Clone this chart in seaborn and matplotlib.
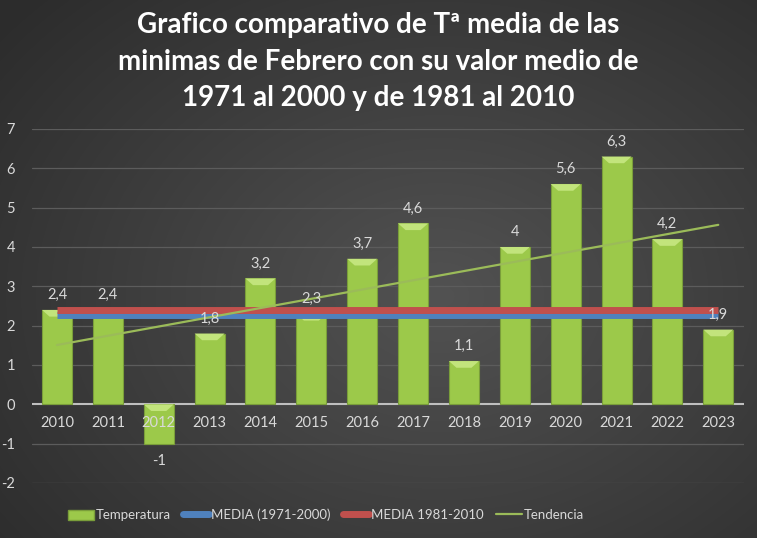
import numpy as np
import pandas as pd
import matplotlib
matplotlib.use("Agg")
import matplotlib.pyplot as plt
import seaborn as sns
from matplotlib.patches import Patch
from matplotlib.lines import Line2D

years = ["2010", "2011", "2012", "2013", "2014", "2015", "2016",
         "2017", "2018", "2019", "2020", "2021", "2022", "2023"]
temperatura = [2.4, 2.4, -1, 1.8, 3.2, 2.3, 3.7, 4.6, 1.1, 4, 5.6, 6.3, 4.2, 1.9]
labels = ["2,4", "2,4", "-1", "1,8", "3,2", "2,3", "3,7", "4,6", "1,1", "4", "5,6", "6,3", "4,2", "1,9"]
media_1971_2000 = 2.27
media_1981_2010 = 2.4
yticks = [-2, -1, 0, 1, 2, 3, 4, 5, 6, 7]

title = "Grafico comparativo de Tª media de las\nminimas de Febrero con su valor medio de\n1971 al 2000 y de 1981 al 2010"

sns.set_theme(style="dark")
plt.rcParams['font.family'] = ['Lato', 'DejaVu Sans']

W, H = 757, 538
fig = plt.figure(figsize=(W / 100, H / 100), dpi=100)

# radial gradient background
bg = fig.add_axes([0, 0, 1, 1], zorder=0)
yy, xx = np.mgrid[0:H, 0:W]
cx, cy = W * 0.58, H * 0.55
r = np.sqrt(((xx - cx) / (W * 0.75)) ** 2 + ((yy - cy) / (H * 0.8)) ** 2)
r = np.clip(r, 0, 1)
inner = np.array([0x52, 0x52, 0x52]) / 255
outer = np.array([0x2c, 0x2c, 0x2c]) / 255
img = inner[None, None, :] * (1 - r[..., None]) + outer[None, None, :] * r[..., None]
bg.imshow(img, aspect="auto", extent=[0, 1, 0, 1])
bg.set_axis_off()

ax = fig.add_axes([31.6 / W, 55 / H, (743.7 - 31.6) / W, (483 - 129) / H], zorder=1)
ax.patch.set_alpha(0)

df = pd.DataFrame({"year": years, "temp": temperatura})
sns.barplot(data=df, x="year", y="temp", ax=ax, color="#9cc94a", width=0.59,
            edgecolor="#7a9e3a", linewidth=0.8, saturation=1, zorder=3)

# bevel highlight on bar ends
for p, v in zip(ax.patches, temperatura):
    x0, w = p.get_x(), p.get_width()
    h = 0.17
    top = v if v >= 0 else 0
    ax.fill([x0, x0 + w, x0 + w * 0.75, x0 + w * 0.25],
            [top, top, top - h, top - h], color="#c2e47c", zorder=4, lw=0)

xs = np.arange(len(years))
ax.plot([xs[0], xs[-1]], [media_1971_2000] * 2, color="#4f81bd", lw=5, zorder=5, solid_capstyle="butt")
ax.plot([xs[0], xs[-1]], [media_1981_2010] * 2, color="#c0504d", lw=5, zorder=5, solid_capstyle="butt")

coef = np.polyfit(xs, temperatura, 1)
trend = np.polyval(coef, xs)
sns.lineplot(x=xs, y=trend, ax=ax, color="#9bbb59", lw=1.6, zorder=6)

for x, v, t in zip(xs, temperatura, labels):
    if v >= 0:
        ax.text(x, v + 0.38, t, ha="center", va="center", color="#d9d9d9", fontsize=10.5, zorder=7)
    else:
        ax.text(x, v - 0.45, t, ha="center", va="center", color="#d9d9d9", fontsize=10.5, zorder=7)

ax.set_xlim(-0.5, len(years) - 0.5)
ax.set_ylim(-2, 7)
ax.set_yticks(yticks)
ax.set_yticklabels([str(t) for t in yticks])
for t in yticks:
    if t != 0:
        ax.axhline(t, color="#5c5c5c", lw=0.9, zorder=1)
ax.axhline(0, color="#bfbfbf", lw=1.5, zorder=2)
ax.grid(False)
for s in ax.spines.values():
    s.set_visible(False)
ax.set_xlabel("")
ax.set_ylabel("")
ax.tick_params(axis="y", colors="#d9d9d9", labelsize=10.5, length=0, pad=12)
ax.tick_params(axis="x", colors="#d9d9d9", labelsize=10.5, length=0, pad=0)
ax.set_xticks(xs)
ax.set_xticklabels([])
for x, y in zip(xs, years):
    ax.text(x, -0.48, y, ha="center", va="center", color="#d9d9d9", fontsize=10.5, zorder=8)

fig.text(0.5, 1 - 12 / H, title, ha="center", va="top", color="white", fontsize=20,
         fontweight="bold", linespacing=1.5)

handles = [Patch(facecolor="#9cc94a", edgecolor="#7a9e3a"),
           Line2D([], [], color="#4f81bd", lw=5),
           Line2D([], [], color="#c0504d", lw=5),
           Line2D([], [], color="#9bbb59", lw=1.6)]
names = ["Temperatura", "MEDIA (1971-2000)", "MEDIA 1981-2010", "Tendencia"]
leg = fig.legend(handles, names, loc="center", bbox_to_anchor=(326 / W, 23 / H), ncol=4,
                 frameon=False, fontsize=9.5, labelcolor="#d9d9d9", handlelength=2.0,
                 handletextpad=0.15, columnspacing=0.9, handleheight=0.8)

fig.savefig("out.png", dpi=100)
